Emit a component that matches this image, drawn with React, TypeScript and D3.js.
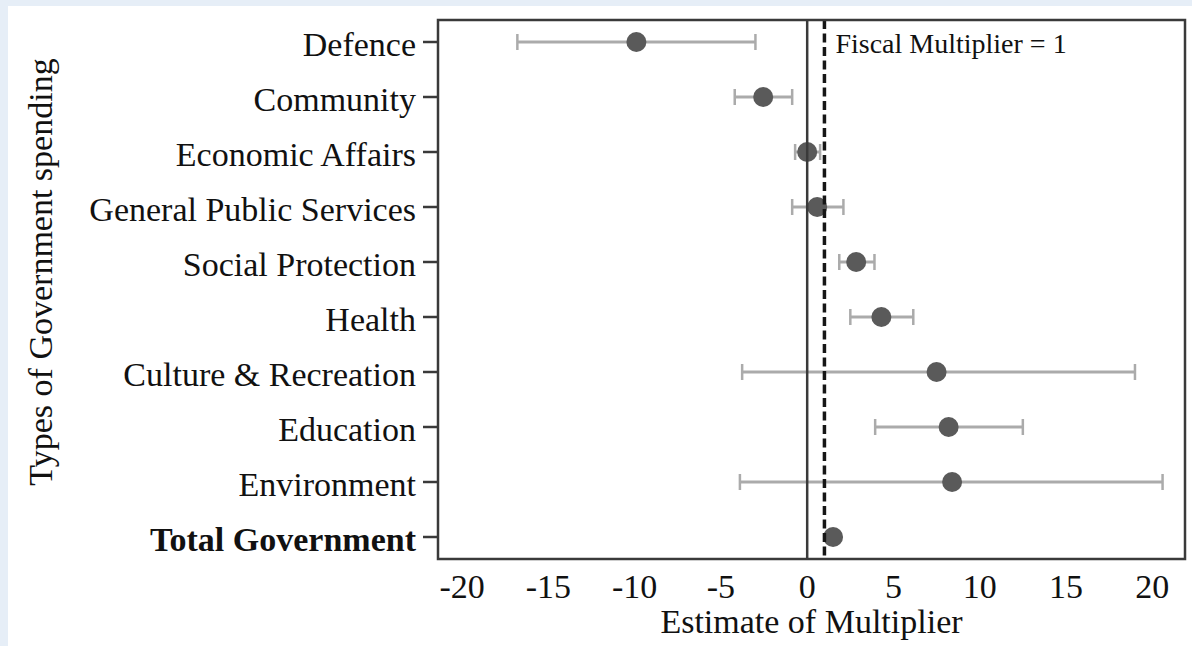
import * as d3 from 'd3';
import * as React from 'react';

// spending categories, top to bottom
const categories = [
    'Defence',
    'Community',
    'Economic Affairs',
    'General Public Services',
    'Social Protection',
    'Health',
    'Culture & Recreation',
    'Education',
    'Environment',
    'Total Government',
];

// point estimate and confidence bounds of the multiplier
const estimates = [-9.9, -2.55, 0.0, 0.58, 2.84, 4.3, 7.5, 8.2, 8.4, 1.5];
const lowerBounds = [-16.8, -4.2, -0.7, -0.87, 1.86, 2.5, -3.77, 3.94, -3.9, 1.3];
const upperBounds = [-3.0, -0.87, 0.75, 2.1, 3.9, 6.15, 19.0, 12.5, 20.6, 1.7];

const xTicks = [-20, -15, -10, -5, 0, 5, 10, 15, 20];
const referenceValue = 1;

const width = 1192;
const height = 646;
const plot = { left: 438, right: 1185, top: 20, bottom: 559 };
const font = '"Liberation Serif", "Times New Roman", serif';
const fontSize = 34;
const textColor = '#111111';

export default function App() {
    const svgRef = React.useRef<SVGSVGElement | null>(null);

    React.useEffect(() => {
        if (!svgRef.current) return;
        const svg = d3.select(svgRef.current);
        svg.selectAll('*').remove();

        // page background and white panel
        svg.append('rect')
            .attr('width', width).attr('height', height)
            .attr('fill', '#e6eef7');
        svg.append('rect')
            .attr('x', 8).attr('y', 6)
            .attr('width', width - 8).attr('height', height - 6)
            .attr('fill', '#ffffff');

        const x = d3.scaleLinear()
            .domain([-21.4, 21.9])
            .range([plot.left, plot.right]);
        const y = d3.scalePoint<string>()
            .domain(categories)
            .range([plot.top, plot.bottom])
            .padding(0.4);

        const rows = categories.map((c, i) => ({
            name: c,
            est: estimates[i],
            lo: lowerBounds[i],
            hi: upperBounds[i],
        }));

        // error bars
        const bars = svg.append('g');
        bars.selectAll('line.bar')
            .data(rows)
            .join('line')
            .attr('class', 'bar')
            .attr('x1', d => x(d.lo))
            .attr('x2', d => x(d.hi))
            .attr('y1', d => y(d.name)!)
            .attr('y2', d => y(d.name)!)
            .attr('stroke', '#ababab')
            .attr('stroke-width', 3);
        ['lo', 'hi'].forEach(k => {
            bars.selectAll(`line.cap-${k}`)
                .data(rows)
                .join('line')
                .attr('class', `cap-${k}`)
                .attr('x1', d => x((d as any)[k]))
                .attr('x2', d => x((d as any)[k]))
                .attr('y1', d => y(d.name)! - 8)
                .attr('y2', d => y(d.name)! + 8)
                .attr('stroke', '#ababab')
                .attr('stroke-width', 2.5);
        });

        // point estimates
        svg.append('g')
            .selectAll('circle')
            .data(rows)
            .join('circle')
            .attr('cx', d => x(d.est))
            .attr('cy', d => y(d.name)!)
            .attr('r', 10)
            .attr('fill', '#5a5a5a');

        // zero line and fiscal multiplier = 1 line
        svg.append('line')
            .attr('x1', x(0)).attr('x2', x(0))
            .attr('y1', plot.top).attr('y2', plot.bottom)
            .attr('stroke', '#3a3a3a')
            .attr('stroke-width', 2.5);
        svg.append('line')
            .attr('x1', x(referenceValue)).attr('x2', x(referenceValue))
            .attr('y1', plot.top).attr('y2', plot.bottom)
            .attr('stroke', '#161616')
            .attr('stroke-width', 3.5)
            .attr('stroke-dasharray', '9,4.5');
        svg.append('text')
            .attr('x', x(referenceValue) + 11)
            .attr('y', 53)
            .attr('font-family', font)
            .attr('font-size', 28)
            .attr('fill', textColor)
            .text(`Fiscal Multiplier = ${referenceValue}`);

        // frame
        svg.append('rect')
            .attr('x', plot.left).attr('y', plot.top)
            .attr('width', plot.right - plot.left)
            .attr('height', plot.bottom - plot.top)
            .attr('fill', 'none')
            .attr('stroke', '#3a3a3a')
            .attr('stroke-width', 2.5);

        // y axis: ticks and category labels
        const yAxis = svg.append('g');
        yAxis.selectAll('line')
            .data(categories)
            .join('line')
            .attr('x1', plot.left - 15).attr('x2', plot.left)
            .attr('y1', d => y(d)!).attr('y2', d => y(d)!)
            .attr('stroke', '#3a3a3a')
            .attr('stroke-width', 2.5);
        yAxis.selectAll('text')
            .data(categories)
            .join('text')
            .attr('x', plot.left - 22)
            .attr('y', d => y(d)! + 14)
            .attr('text-anchor', 'end')
            .attr('font-family', font)
            .attr('font-size', fontSize)
            .attr('font-weight', d => (d === 'Total Government' ? 'bold' : 'normal'))
            .attr('fill', textColor)
            .text(d => d);

        // x axis labels (no tick marks)
        svg.append('g')
            .selectAll('text')
            .data(xTicks)
            .join('text')
            .attr('x', d => x(d))
            .attr('y', 598)
            .attr('text-anchor', 'middle')
            .attr('font-family', font)
            .attr('font-size', fontSize)
            .attr('fill', textColor)
            .text(d => (d < 0 ? `-${Math.abs(d)}` : `${d}`));

        // axis titles
        svg.append('text')
            .attr('x', (plot.left + plot.right) / 2)
            .attr('y', 633)
            .attr('text-anchor', 'middle')
            .attr('font-family', font)
            .attr('font-size', fontSize)
            .attr('fill', textColor)
            .text('Estimate of Multiplier');
        svg.append('text')
            .attr('transform', 'translate(52,272) rotate(-90)')
            .attr('text-anchor', 'middle')
            .attr('font-family', font)
            .attr('font-size', fontSize)
            .attr('fill', textColor)
            .text('Types of Government spending');
    }, []);

    return (
        <div style={{ position: 'absolute', left: 0, top: 0, width, height }}>
            <svg ref={svgRef} width={width} height={height} style={{ display: 'block' }} />
        </div>
    );
}
